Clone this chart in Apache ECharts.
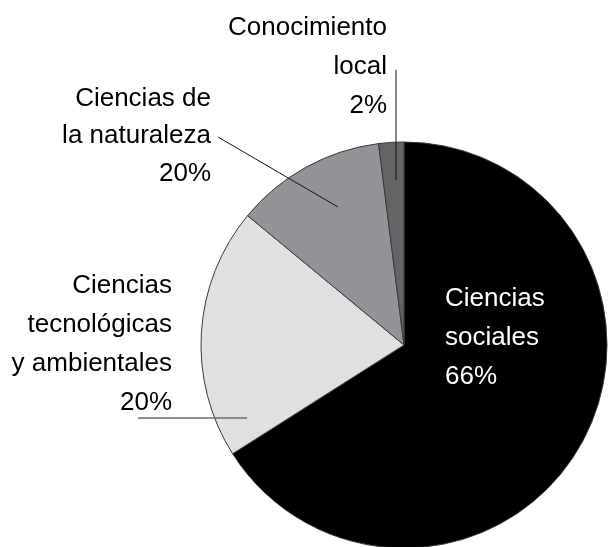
<!DOCTYPE html>
<html>
<head>
    <meta charset="utf-8" />
    <title></title>
    <script type="text/javascript" src="https://cdn.jsdelivr.net/npm/echarts@6/dist/echarts.min.js"></script>
    <style>
        html, body { margin: 0; padding: 0; background: #fff; }
        #con1 { width: 608px; height: 547px; }
    </style>
</head>
<body>
    <div id="con1"></div>
    <script type="text/javascript">
        // datos
        var categories = ['Ciencias\nsociales', 'Ciencias\ntecnológicas\ny ambientales', 'Ciencias de\nla naturaleza', 'Conocimiento\nlocal'];
        var values = [66, 20, 12, 2];
        var pctLabels = ['66%', '20%', '20%', '2%'];
        var colors = ['#000000', '#e0e0e2', '#939497', '#636466'];

        // posicion de etiquetas (x, y arriba, alineacion) y lineas guia
        var labelPos = [
            { x: 445, y: 279, align: 'left', lh: 39 },
            { x: 172, y: 266, align: 'right', lh: 39 },
            { x: 211, y: 80, align: 'right', lh: 37.5 },
            { x: 387, y: 8, align: 'right', lh: 39 }
        ];
        var guideLines = [
            null,
            [[247, 418], [190, 418], [138, 418]],
            [[338, 207], [278, 172], [218, 137]],
            [[396, 180], [396, 125], [396, 70]]
        ];
        var guideColors = [null, '#6a6a6a', '#111', '#111'];
        var guideWidths = [0, 1.5, 1, 1];

        var sliceData = [];
        var labelData = [];
        for (var i = 0; i < values.length; i++) {
            sliceData.push({
                name: categories[i],
                value: values[i],
                itemStyle: { color: colors[i] }
            });
            labelData.push({
                name: categories[i],
                value: values[i],
                label: {
                    position: i == 0 ? 'inside' : 'outside',
                    color: i == 0 ? '#fff' : '#000',
                    lineHeight: labelPos[i].lh,
                    align: labelPos[i].align
                },
                labelLine: {
                    show: i != 0,
                    lineStyle: { color: guideColors[i] || '#000', width: guideWidths[i] }
                }
            });
        }

        var myChart1 = echarts.init(document.getElementById('con1'), null, { renderer: 'canvas' });
        var option1 = {
            backgroundColor: '#fff',
            animation: false,
            series: [{
                // sectores
                type: 'pie',
                z: 2,
                center: [404, 345],
                radius: [0, 203],
                startAngle: 90,
                clockwise: true,
                silent: true,
                itemStyle: {
                    borderColor: '#3a3a3a',
                    borderWidth: 1
                },
                label: { show: false },
                labelLine: { show: false },
                data: sliceData
            }, {
                // etiquetas y lineas guia encima de los sectores
                type: 'pie',
                z: 5,
                center: [404, 345],
                radius: [0, 203],
                startAngle: 90,
                clockwise: true,
                silent: true,
                avoidLabelOverlap: false,
                itemStyle: {
                    color: 'rgba(0,0,0,0)',
                    borderWidth: 0
                },
                label: {
                    show: true,
                    fontFamily: 'Liberation Sans',
                    fontSize: 26,
                    formatter: function (p) {
                        return p.name + '\n' + pctLabels[p.dataIndex];
                    }
                },
                labelLine: { show: true, length: 10, length2: 10 },
                labelLayout: function (params) {
                    var i = params.dataIndex;
                    var res = {
                        x: labelPos[i].x,
                        y: labelPos[i].y,
                        align: labelPos[i].align,
                        verticalAlign: 'top'
                    };
                    if (guideLines[i]) {
                        res.labelLinePoints = guideLines[i];
                    }
                    return res;
                },
                data: labelData
            }]
        };
        option1 && myChart1.setOption(option1);
    </script>
</body>
</html>
